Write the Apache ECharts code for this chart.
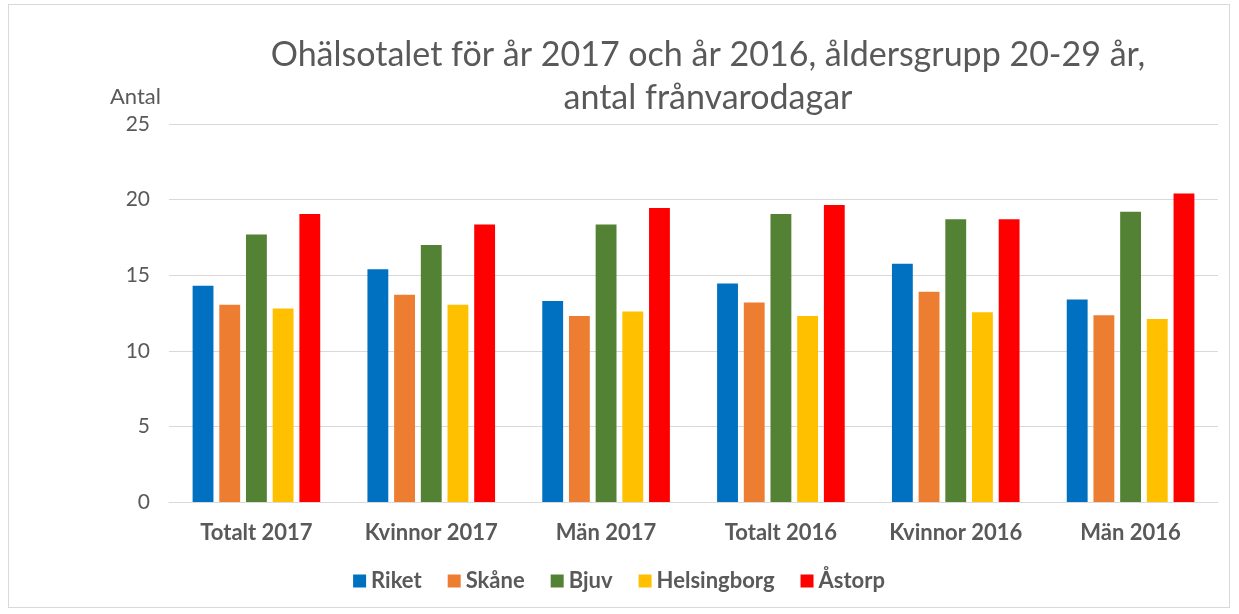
<!DOCTYPE html>
<html>
<head>
<meta charset="utf-8">
<script src="https://cdn.jsdelivr.net/npm/echarts@6/dist/echarts.min.js"></script>
<style>
	body { margin:0; background:#fff; }
	#main { position:absolute; left:8px; top:4px; width:1222px; height:604px; border:1px solid #d9d9d9; box-sizing:border-box; }
</style>
</head>
<body>
<div id="main"></div>
<script>
	var categories = ['Totalt 2017', 'Kvinnor 2017', 'Män 2017', 'Totalt 2016', 'Kvinnor 2016', 'Män 2016'];
	var riket       = [14.3, 15.4, 13.3, 14.45, 15.75, 13.4];
	var skane       = [13.05, 13.7, 12.3, 13.2, 13.9, 12.35];
	var bjuv        = [17.7, 17.0, 18.35, 19.05, 18.7, 19.2];
	var helsingborg = [12.8, 13.05, 12.6, 12.3, 12.55, 12.1];
	var astorp      = [19.05, 18.35, 19.45, 19.65, 18.7, 20.4];

	var fontFam = 'Lato, "Noto Sans", sans-serif';

	function mk(name, data, color) {
		return {
			name: name,
			type: 'bar',
			data: data,
			barGap: '28%',
			barCategoryGap: '27%',
			itemStyle: { color: color },
			emphasis: { disabled: true }
		};
	}

	var option = {
		animation: false,
		title: {
			text: 'Ohälsotalet för år 2017 och år 2016, åldersgrupp 20-29 år,\nantal frånvarodagar',
			left: 694,
			top: 24,
			textAlign: 'center',
			textStyle: { color: '#595959', fontSize: 34, fontWeight: 'normal', fontFamily: fontFam, lineHeight: 43 }
		},
		grid: { left: 160, right: 11, top: 119, bottom: 105, containLabel: false },
		legend: {
			bottom: 10,
			left: 'center',
			itemWidth: 13,
			itemHeight: 13,
			itemGap: 26,
			icon: 'rect',
			textStyle: { color: '#595959', fontSize: 22, fontWeight: 'bold', fontFamily: fontFam },
			data: ['Riket', 'Skåne', 'Bjuv', 'Helsingborg', 'Åstorp']
		},
		xAxis: {
			type: 'category',
			data: categories,
			axisLine: { lineStyle: { color: '#d9d9d9' } },
			axisTick: { show: false },
			axisLabel: { color: '#595959', fontSize: 22, fontWeight: 'bold', fontFamily: fontFam, margin: 20 }
		},
		yAxis: {
			type: 'value',
			name: 'Antal',
			nameLocation: 'end',
			nameGap: 16,
			nameTextStyle: { color: '#595959', fontSize: 22, fontFamily: fontFam, align: 'right', padding: [0, 8, 0, 0] },
			min: 0,
			max: 25,
			interval: 5,
			axisLine: { show: false },
			axisTick: { show: false },
			axisLabel: { color: '#595959', fontSize: 21, fontFamily: fontFam, margin: 19 },
			splitLine: { lineStyle: { color: '#d9d9d9' } }
		},
		series: [
			mk('Riket', riket, '#0070c0'),
			mk('Skåne', skane, '#ed7d31'),
			mk('Bjuv', bjuv, '#548235'),
			mk('Helsingborg', helsingborg, '#ffc000'),
			mk('Åstorp', astorp, '#ff0000')
		]
	};

	var myChart = echarts.init(document.getElementById('main'));
	myChart.setOption(option, true);
</script>
</body>
</html>
